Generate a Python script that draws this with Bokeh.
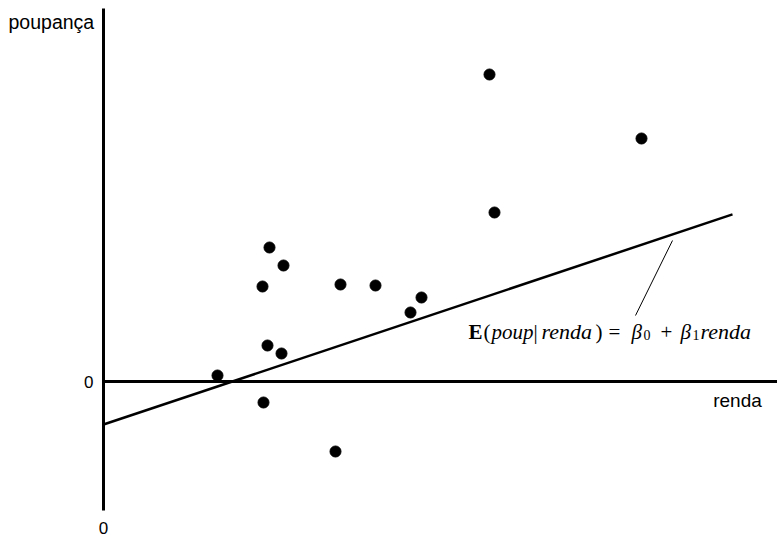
from bokeh.plotting import figure
from bokeh.models import Label, Range1d
from bokeh.embed import file_html
from bokeh.resources import INLINE

# data (renda, poupança)
renda = [11.4, 15.9, 16.6, 18.0, 16.4, 17.8, 16.0, 23.7, 27.2, 30.7, 31.8, 23.2, 38.6, 39.1, 53.8]
poup = [0.6, 9.5, 13.4, 11.6, 3.6, 2.8, -2.1, 9.7, 9.6, 6.9, 8.4, -7.0, 30.7, 16.9, 24.3]
beta0 = -4.3
beta1 = 0.334
line_x = [0.0, 62.9]
axis_x_end = 67.4
axis_y = [37.3, -12.9]

p = figure(width=777, height=536, output_backend="svg", toolbar_location=None,
           x_range=Range1d(-10.3, 67.4), y_range=Range1d(-15.5, 38.1),
           min_border=0, outline_line_color=None)
p.axis.visible = False
p.grid.visible = False

# axes drawn as lines
p.line([0, 0], axis_y, line_color="black", line_width=3)
p.line([0, axis_x_end], [0, 0], line_color="black", line_width=3)

# regression line
p.line(line_x, [beta0 + beta1 * x for x in line_x], line_color="black", line_width=2.5)

# pointer
p.line([56.9, 53.2], [14.1, 6.6], line_color="black", line_width=1)

p.scatter(renda, poup, size=11, color="black")

def lab(x, y, text, align="left", font="Liberation Sans", size="16px", style="normal", **kw):
    p.add_layout(Label(x=x, y=y, text=text, text_font=font, text_font_size=size,
                       text_font_style=style, text_align=align, text_color="black", **kw))

lab(-10.3 + 0.8, 36.0, "poupança", size="19.5px", text_baseline="middle")
lab(-1.0, 0, "0", align="right", size="17px", text_baseline="middle")
lab(0, -14.6, "0", align="center", size="17px", text_baseline="middle")
lab(63.4, -1.9, "renda", align="center", size="19px", text_baseline="middle")

# equation E(poup|renda) = β0 + β1 renda, built piece by piece
eq_x, eq_y = 36.6, 5.0
pieces = [
    (-1, "E", "bold", "21px", 0),
    (14, "(", "normal", "21px", 0),
    (22, "poup", "italic", "21px", 0),
    (64, "|", "normal", "21px", 0),
    (72, "renda", "italic", "22px", 0),
    (126, ")", "normal", "21px", 0),
    (139, "=", "normal", "21px", 0),
    (162, "β", "italic", "21px", 0),
    (174, "0", "normal", "14px", -3),
    (191, "+", "normal", "21px", 0),
    (211, "β", "italic", "21px", 0),
    (223, "1", "normal", "14px", -3),
    (231, "renda", "italic", "22px", 0),
]
for dx, t, st, sz, dy in pieces:
    lab(eq_x, eq_y, t, font="Liberation Serif", size=sz, style=st,
        x_offset=dx, y_offset=dy, text_baseline="alphabetic")

open("out.html", "w").write(file_html(p, INLINE))
